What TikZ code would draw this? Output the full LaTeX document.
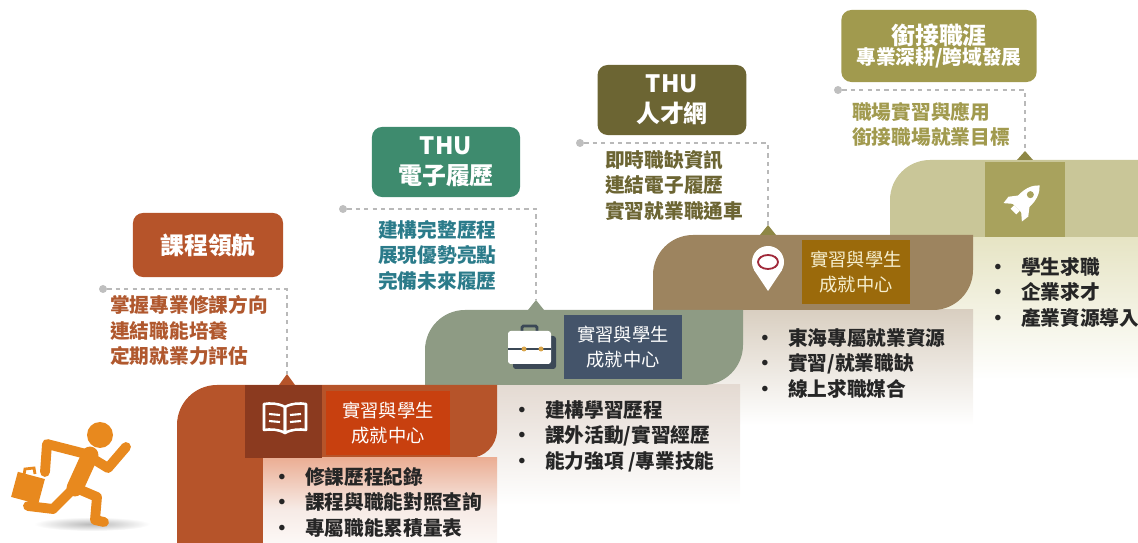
\documentclass[tikz,border=0pt]{standalone}
\usepackage{fontspec}
\setmainfont{Noto Sans CJK TC}
\definecolor{rust}{HTML}{B6542A}
\definecolor{rustdark}{HTML}{8B3A1F}
\definecolor{vermil}{HTML}{C8400F}
\definecolor{rusttext}{HTML}{B0582E}
\definecolor{sage}{HTML}{8E9B84}
\definecolor{slate}{HTML}{44546A}
\definecolor{slatedark}{HTML}{3B4856}
\definecolor{teal}{HTML}{3E8B6E}
\definecolor{tealtext}{HTML}{2B7B8A}
\definecolor{taupe}{HTML}{9D845F}
\definecolor{golden}{HTML}{9B6A0B}
\definecolor{cream}{HTML}{F6EFCF}
\definecolor{olivedark}{HTML}{6C6533}
\definecolor{olive}{HTML}{A19A4E}
\definecolor{olivemid}{HTML}{8E8745}
\definecolor{khaki}{HTML}{C9C698}
\definecolor{khakidark}{HTML}{A8A25D}
\definecolor{pinred}{HTML}{A0283A}
\definecolor{brass}{HTML}{D9A54A}
\definecolor{runner}{HTML}{E8891E}
\definecolor{fadeA}{HTML}{EBAE94}
\definecolor{fadeB}{HTML}{E4DAD2}
\definecolor{fadeC}{HTML}{D9CFC1}
\definecolor{fadeD}{HTML}{E6E4C4}
\newcommand{\bul}[1]{\makebox[0.82cm][l]{\textbullet}#1}
\begin{document}
\begin{tikzpicture}[x=0.025cm,y=-0.025cm,
  tag/.style={fill=#1,rounded corners=0.25cm,text=white,align=center,inner sep=0pt},
  badge/.style={fill=#1,text=white,align=center,inner sep=0pt,minimum height=1.6cm,font=\fontsize{13}{18}\selectfont},
  note/.style={text=#1,align=left,anchor=north west,inner sep=0pt,font=\fontsize{14}{18.2}\selectfont\bfseries},
  items/.style={text=black!85,align=left,anchor=north west,inner sep=0pt,font=\fontsize{14}{18.1}\selectfont\bfseries},
  leader/.style={draw=gray!55,dashed,line width=0.9pt},
  dot/.style={circle,fill=gray!50,inner sep=0pt,minimum size=0.2cm},
  limb/.style={draw=runner,line width=7pt,line cap=round,line join=round}]
\useasboundingbox (0,0) rectangle (1138,543);

% step 4
\shade[top color=fadeD,bottom color=white] (930,237) rectangle (1138,380);
\fill[khaki] (890,237) -- (890,200) arc[start angle=180,end angle=270,radius=40] -- (1150,160) -- (1150,237) -- cycle;
\fill[khakidark] (985,162) rectangle (1065,237);
\begin{scope}[shift={(1024,201)},rotate=-45]
\fill[white] (0,-22) .. controls (9,-14) and (9,-2) .. (7,10) -- (-7,10) .. controls (-9,-2) and (-9,-14) .. (0,-22);
\fill[white] (-7,-1) -- (-14,8) -- (-13,16) -- (-6,10) -- cycle;
\fill[white] (7,-1) -- (14,8) -- (13,16) -- (6,10) -- cycle;
\fill[white] (-4,10) rectangle (4,15);
\fill[khakidark] (0,-9) circle (3.5);
\end{scope}
\fill[olivemid] (1017,160) -- (1025,151) -- (1033,160) -- cycle;
\coordinate (t4) at (1025,151);

% step 3
\shade[top color=fadeC,bottom color=white] (700,310) rectangle (973,425);
\fill[taupe] (653,310) -- (653,275) arc[start angle=180,end angle=270,radius=40] -- (973,235) -- (973,270) arc[start angle=0,end angle=90,radius=40] -- cycle;
\fill[white] (768,262) circle (16);
\fill[white] (754,270) -- (782,270) -- (768,291) -- cycle;
\draw[pinred,line width=1.3pt] (768,262) ellipse [x radius=10,y radius=7];
\node (badgeC) at (856,272) [badge=golden,text=cream,minimum width=2.7cm] {實習與學生\\成就中心};
\fill[olivemid] (760,235) -- (768,225) -- (776,235) -- cycle;
\coordinate (t3) at (768,225);

% step 2
\shade[top color=fadeB,bottom color=white] (460,385) rectangle (740,505);
\fill[sage] (425,385) -- (425,350) arc[start angle=180,end angle=270,radius=40] -- (743,310) -- (743,345) arc[start angle=0,end angle=90,radius=40] -- cycle;
\fill[slatedark,rounded corners=2pt] (513,336) rectangle (556,369);
\draw[slatedark,line width=2pt,rounded corners=1pt] (522,333) -- (522,326) -- (537,326) -- (537,333);
\fill[white,rounded corners=2pt] (508,331) rectangle (551,364);
\draw[slatedark,line width=1.2pt] (508,349) -- (551,349);
\fill[brass] (524,349) circle (2.5);
\fill[brass] (541,349) circle (2.5);
\node (badgeB) at (623,347) [badge=slate,minimum width=2.93cm] {實習與學生\\成就中心};
\fill[sage] (528,310) -- (536,300) -- (544,310) -- cycle;
\coordinate (t2) at (536,300);

% step 1
\fill[rust] (177,560) -- (177,425) arc[start angle=180,end angle=270,radius=40] -- (497,385) -- (497,430) arc[start angle=0,end angle=90,radius=28] -- (263,458) -- (263,560) -- cycle;
\shade[top color=fadeA,bottom color=white,middle color=rust!12!white] (263,458) rectangle (497,560);
\fill[rustdark] (245,385) rectangle (322,458);
\draw[white,line width=1.8pt,line join=round] (285,407) .. controls (278,403) and (270,403) .. (264,404) -- (264,430) .. controls (270,429) and (278,429) .. (285,433) -- cycle;
\draw[white,line width=1.8pt,line join=round] (285,407) .. controls (292,403) and (300,403) .. (306,404) -- (306,430) .. controls (300,429) and (292,429) .. (285,433) -- cycle;
\draw[white,line width=1.5pt] (269,414) -- (280,415) (269,421) -- (280,422) (290,415) -- (301,414) (290,422) -- (301,421);
\node (badgeA) at (388,423) [badge=vermil,minimum width=3.08cm] {實習與學生\\成就中心};
\fill[rust] (279,385) -- (287,374) -- (295,385) -- cycle;
\coordinate (t1) at (287,374);

% bullet lists
\node (listA) at (272,467) [items] {\bul{修課歷程紀錄}\\\bul{課程與職能對照查詢}\\\bul{專屬職能累積量表}};
\node (listB) at (512,400) [items] {\bul{建構學習歷程}\\\bul{課外活動/實習經歷}\\\bul{能力強項 /專業技能}};
\node (listC) at (755,328) [items] {\bul{東海專屬就業資源}\\\bul{實習/就業職缺}\\\bul{線上求職媒合}};
\node (listD) at (988,257) [items] {\bul{學生求職}\\\bul{企業求才}\\\bul{產業資源導入}};

% callouts
\node (tagCourse) at (208,245) [tag=rust,minimum width=3.75cm,minimum height=1.6cm,font=\fontsize{17}{21}\selectfont\bfseries] {課程領航};
\node (tagResume) at (446,162) [tag=teal,minimum width=3.7cm,minimum height=1.75cm,font=\fontsize{17}{21}\selectfont\bfseries] {THU\\電子履歷};
\node (tagTalent) at (672,100) [tag=olivedark,minimum width=3.72cm,minimum height=1.75cm,font=\fontsize{17}{21}\selectfont\bfseries] {THU\\人才網};
\node (tagCareer) at (939,46) [tag=olive,minimum width=4.88cm,minimum height=1.8cm,font=\bfseries] {{\fontsize{17}{20.6}\selectfont 銜接職涯}\\{\fontsize{14}{20.6}\selectfont 專業深耕/跨域發展}};

\node (noteCourse) at (110,295) [note=rusttext] {掌握專業修課方向\\連結職能培養\\定期就業力評估};
\node (noteResume) at (378,220) [note=tealtext] {建構完整歷程\\展現優勢亮點\\完備未來履歷};
\node (noteTalent) at (605,150) [note=olivedark] {即時職缺資訊\\連結電子履歷\\實習就業職通車};
\node (noteCareer) at (852,102) [note=olive] {職場實習與應用\\銜接職場就業目標};

\node (p1) at (103,289) [dot] {};
\node (p2) at (343,209) [dot] {};
\node (p3) at (580,143) [dot] {};
\node (p4) at (838,90) [dot] {};
\draw[leader] (p1) -| (t1);
\draw[leader] (p2) -| (t2);
\draw[leader] (p3) -| (t3);
\draw[leader] (p4) -| (t4);

% runner
\shade[inner color=gray!55,outer color=white] (92,524) ellipse [x radius=58,y radius=7];
\fill[runner] (100,435) circle (13);
\draw[limb,line width=12pt] (90,455) -- (75,488);
\draw[limb] (90,457) -- (108,468) -- (126,447);
\draw[limb] (86,454) -- (47,444) -- (45,472);
\draw[limb] (76,488) -- (97,497) -- (95,520) -- (104,522);
\draw[limb] (72,490) -- (53,509) -- (28,506);
\fill[runner,rotate around={-15:(28,488)}] (14,475) rectangle (42,501);
\draw[runner,line width=2pt] (24,475) -- (25,469) -- (34,468) -- (35,474);
\end{tikzpicture}
\end{document}
